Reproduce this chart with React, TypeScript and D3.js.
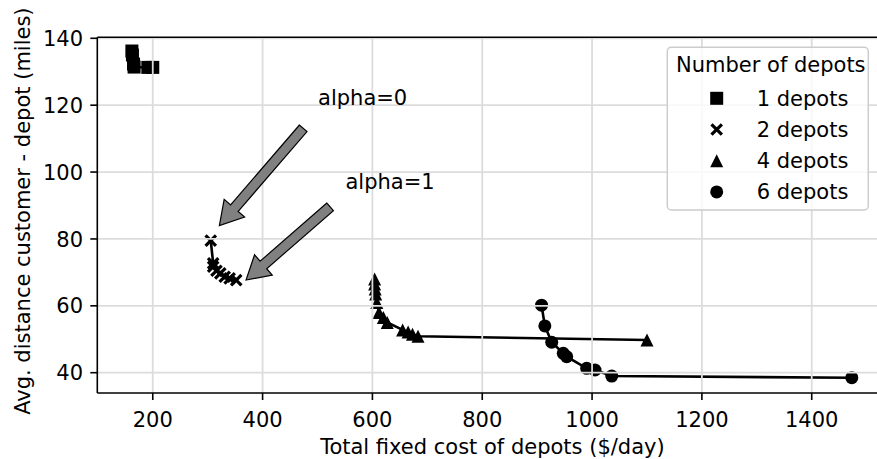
import React from "react";
import * as d3 from "d3";

// ---- data ----
const depots1: [number, number][] = [
  [162, 136.2], [163, 135.0], [165, 132.3], [166, 131.4], [191, 131.3], [200, 131.3],
];
const depots2: [number, number][] = [
  [305.6, 79.5], [310, 72.7], [310, 71.7], [316, 70.5], [323, 69.7], [331, 68.7], [340, 68.2], [352, 67.7],
];
const depots4: [number, number][] = [
  [604, 68.0], [604, 66.5], [605, 65.0], [606, 63.5], [608, 61], [612, 58], [620, 56.5], [627, 55],
  [655, 52.8], [665, 52.2], [673, 51.5], [683, 50.9], [1100, 49.8],
];
const depots6: [number, number][] = [
  [908, 60.2], [914, 54.0], [926.5, 49.1], [947.6, 45.8], [953.8, 44.8], [990.2, 41.3], [1005.4, 40.8],
  [1035.8, 39.0], [1473, 38.5],
];
const seriesNames = ["1 depots", "2 depots", "4 depots", "6 depots"];
const seriesMarkers = ["square", "x", "triangle", "circle"];
const seriesData = [depots1, depots2, depots4, depots6];

const xTicks = [200, 400, 600, 800, 1000, 1200, 1400];
const yTicks = [40, 60, 80, 100, 120, 140];

const annotationTexts = ["alpha=0", "alpha=1"];
const annotationTextPos: [number, number][] = [[501, 120], [551, 95]];
const annotationTail: [number, number][] = [[474, 113.1], [523, 89.6]];
const annotationTip: [number, number][] = [[321.3, 84.0], [369.9, 67.7]];

const xLabel = "Total fixed cost of depots ($/day)";
const yLabel = "Avg. distance customer - depot (miles)";
const legendTitle = "Number of depots";

const W = 877;
const H = 459;
const FONT = "DejaVu Sans";
const FS = 21;

function Marker({ kind, cx, cy, s }: { kind: string; cx: number; cy: number; s: number }) {
  const h = s / 2;
  if (kind === "square")
    return <rect x={cx - h} y={cy - h} width={s} height={s} fill="black" />;
  if (kind === "circle") return <circle cx={cx} cy={cy} r={h} fill="black" />;
  if (kind === "triangle")
    return (
      <path d={`M${cx},${cy - h}L${cx - h},${cy + h}L${cx + h},${cy + h}Z`} fill="black" />
    );
  const k = h * 0.8;
  return (
    <path
      d={`M${cx - k},${cy - k}L${cx + k},${cy + k}M${cx - k},${cy + k}L${cx + k},${cy - k}`}
      stroke="black"
      strokeWidth={3.2}
      fill="none"
    />
  );
}

function arrowPath(tail: [number, number], tip: [number, number]) {
  const [x0, y0] = tail;
  const [x1, y1] = tip;
  const dx = x1 - x0, dy = y1 - y0;
  const len = Math.hypot(dx, dy);
  const ux = dx / len, uy = dy / len;
  const px = -uy, py = ux;
  const w = 5, hw = 13.5, hl = 23;
  const bx = x1 - ux * hl, by = y1 - uy * hl;
  const pts = [
    [x0 + px * w, y0 + py * w],
    [bx + px * w, by + py * w],
    [bx + px * hw, by + py * hw],
    [x1, y1],
    [bx - px * hw, by - py * hw],
    [bx - px * w, by - py * w],
    [x0 - px * w, y0 - py * w],
  ];
  return "M" + pts.map((p) => p.join(",")).join("L") + "Z";
}

export default function App() {
  const x = d3.scaleLinear().domain([99, 1538]).range([97.3, 887.5]);
  const y = d3.scaleLinear().domain([33.93, 140.3]).range([393, 37.3]);
  const line = d3
    .line<[number, number]>()
    .x((d) => x(d[0]))
    .y((d) => y(d[1]));
  const left = x.range()[0];
  const right = x.range()[1];
  const top = y.range()[1];
  const bottom = y.range()[0];
  const ms = 13;

  const legX = 667.3, legY = 47.3, legW = 201, legH = 162.7;

  return (
    <svg
      width={W}
      height={H}
      style={{ position: "absolute", left: 0, top: 0, background: "white" }}
      fontFamily={FONT}
      fontSize={FS}
    >
      <rect width={W} height={H} fill="white" />
      {seriesData.map((s, i) => (
        <path key={"l" + i} d={line(s) || ""} stroke="black" strokeWidth={2.6} fill="none" />
      ))}
      {seriesData.map((s, i) =>
        s.map((d, j) => (
          <Marker key={`m${i}-${j}`} kind={seriesMarkers[i]} cx={x(d[0])} cy={y(d[1])} s={ms} />
        ))
      )}
      {xTicks.map((t) => (
        <line key={"gx" + t} x1={x(t)} x2={x(t)} y1={top} y2={bottom} stroke="#dcdcdc" strokeWidth={1.8} />
      ))}
      {yTicks.map((t) => (
        <line key={"gy" + t} x1={left} x2={right} y1={y(t)} y2={y(t)} stroke="#dcdcdc" strokeWidth={1.8} />
      ))}
      <line x1={left} x2={left} y1={top} y2={bottom} stroke="black" strokeWidth={1.6} />
      <line x1={left} x2={right} y1={bottom} y2={bottom} stroke="black" strokeWidth={1.6} />
      <line x1={left} x2={right} y1={top} y2={top} stroke="black" strokeWidth={1.6} />
      <line x1={right} x2={right} y1={top} y2={bottom} stroke="black" strokeWidth={1.6} />
      {xTicks.map((t) => (
        <g key={"tx" + t}>
          <line x1={x(t)} x2={x(t)} y1={bottom} y2={bottom + 7} stroke="black" strokeWidth={1.6} />
          <text x={x(t)} y={426.5} textAnchor="middle">
            {t}
          </text>
        </g>
      ))}
      {yTicks.map((t) => (
        <g key={"ty" + t}>
          <line x1={left - 7} x2={left} y1={y(t)} y2={y(t)} stroke="black" strokeWidth={1.6} />
          <text x={83} y={y(t)} dy="0.36em" textAnchor="end">
            {t}
          </text>
        </g>
      ))}
      <text x={(left + right) / 2} y={453.5} textAnchor="middle">
        {xLabel}
      </text>
      <text transform={`translate(29.5,${(top + bottom) / 2 - 4}) rotate(-90)`} textAnchor="middle">
        {yLabel}
      </text>
      {annotationTexts.map((t, i) => (
        <g key={"a" + i}>
          <path
            d={arrowPath(
              [x(annotationTail[i][0]), y(annotationTail[i][1])],
              [x(annotationTip[i][0]), y(annotationTip[i][1])]
            )}
            fill="#808080"
            stroke="black"
            strokeWidth={1.2}
          />
          <text x={x(annotationTextPos[i][0])} y={y(annotationTextPos[i][1])}>
            {t}
          </text>
        </g>
      ))}
      <rect
        x={legX}
        y={legY}
        width={legW}
        height={legH}
        rx={4}
        fill="white"
        fillOpacity={0.8}
        stroke="#cccccc"
        strokeWidth={1.5}
      />
      <text x={676} y={71.7}>
        {legendTitle}
      </text>
      {seriesNames.map((n, i) => {
        const cy = 98.3 + i * 31.2;
        return (
          <g key={"lg" + i}>
            <Marker kind={seriesMarkers[i]} cx={716.7} cy={cy} s={ms} />
            <text x={756.7} y={cy} dy="0.36em">
              {n}
            </text>
          </g>
        );
      })}
    </svg>
  );
}
